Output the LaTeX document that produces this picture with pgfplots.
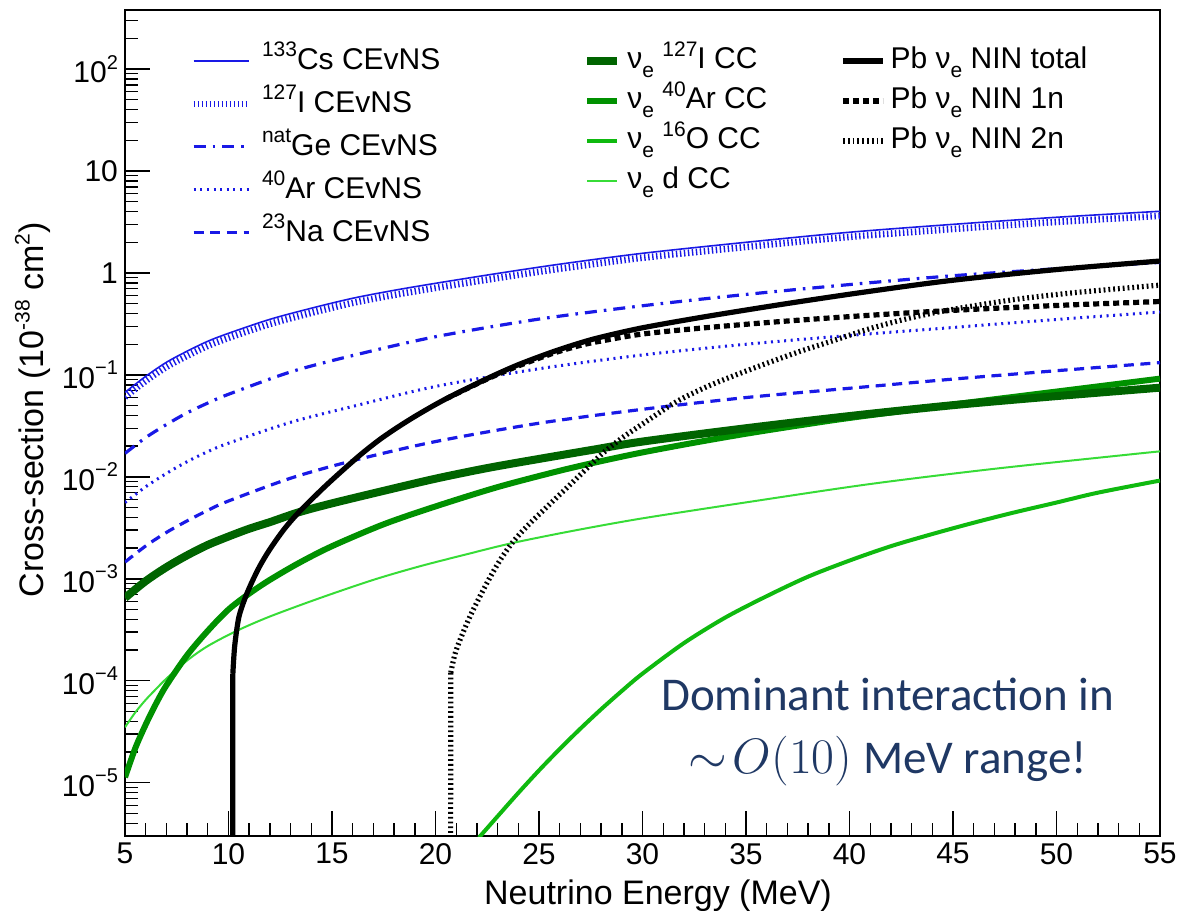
\documentclass[border=0pt]{standalone}
\usepackage{fontspec}
\setmainfont{Liberation Sans}
\newfontfamily\calibri{Carlito}
\usepackage{pgfplots}
\pgfplotsset{compat=1.18}
\definecolor{cblue}{RGB}{25,25,230}
\definecolor{gI}{RGB}{0,100,0}
\definecolor{gAr}{RGB}{0,145,0}
\definecolor{gO}{RGB}{15,185,15}
\definecolor{gd}{RGB}{55,220,55}
\definecolor{navy}{RGB}{31,56,100}
\newcommand{\sups}[1]{\raisebox{0.42em}{\fontsize{10.5}{12}\selectfont #1}}
\newcommand{\subs}[1]{\raisebox{-0.28em}{\fontsize{10.5}{12}\selectfont #1}}
\newcommand{\tsup}[1]{10\raisebox{0.45em}{\fontsize{10}{12}\selectfont #1}}
\tikzset{
 sCs/.style={cblue, line width=0.8pt},
 sI/.style={cblue, line width=3.3pt, dash pattern=on 0.7pt off 1.3pt},
 sGe/.style={cblue, line width=1.6pt, dash pattern=on 6pt off 3.5pt on 1.3pt off 3.5pt},
 sAr/.style={cblue, line width=1.5pt, dash pattern=on 1pt off 2.3pt},
 sNa/.style={cblue, line width=1.6pt, dash pattern=on 5pt off 3.3pt},
 sICC/.style={gI, line width=4pt},
 sArCC/.style={gAr, line width=3pt},
 sOCC/.style={gO, line width=2pt},
 sdCC/.style={gd, line width=1pt},
 sTot/.style={black, line width=2.6pt},
 s1n/.style={black, line width=2.6pt, dash pattern=on 3pt off 2pt},
 s2n/.style={black, line width=2.6pt, dash pattern=on 0.9pt off 1.5pt},
}
\begin{document}
\begin{tikzpicture}
\path[use as bounding box] (-62.5pt,-37pt) rectangle (526pt,418pt);
\begin{axis}[
 at={(0,0)}, anchor=south west,
 width=517.5pt, height=413pt, scale only axis,
 xmin=5, xmax=55, ymode=log, ymin=3e-6, ymax=380,
 xtick={5,10,...,55}, xticklabels={5,10,15,20,25,30,35,40,45,50,55},
 minor x tick num=4,
 ytick={1e-5,1e-4,1e-3,1e-2,1e-1,1,10,100},
 yticklabels={\tsup{−5},\tsup{−4},\tsup{−3},\tsup{−2},\tsup{−1},1,10,\tsup{2}},
 minor ytick={3e-6,4e-6,5e-6,6e-6,7e-6,8e-6,9e-6,2e-5,3e-5,4e-5,5e-5,6e-5,7e-5,8e-5,9e-5,2e-4,3e-4,4e-4,5e-4,6e-4,7e-4,8e-4,9e-4,2e-3,3e-3,4e-3,5e-3,6e-3,7e-3,8e-3,9e-3,0.02,0.03,0.04,0.05,0.06,0.07,0.08,0.09,0.2,0.3,0.4,0.5,0.6,0.7,0.8,0.9,2,3,4,5,6,7,8,9,20,30,40,50,60,70,80,90,200,300},
 tick pos=left, tick align=inside,
 major tick length=12.5pt, minor tick length=6.5pt,
 every tick/.style={black, line width=0.7pt},
 axis line style={line width=1pt},
 tick label style={font=\fontsize{15}{18}\selectfont},
 xlabel={Neutrino Energy (MeV)},
 ylabel={Cross-section (10\sups{-38} cm\sups{2})},
 label style={font=\fontsize{17}{20}\selectfont},
 xlabel style={at={(axis description cs:0.515,-0.0726)}, anchor=center},
 ylabel style={at={(axis description cs:-0.089,0.516)}, anchor=center},
 no markers,
 legend image code/.code={\draw[#1] (0pt,0pt) -- (27.5pt,0pt);},
 legend cell align=left,
 legend style={at={(axis description cs:0.0628,0.965)}, anchor=north west, draw=none, fill=none, inner sep=0pt, column sep=5pt, font=\fontsize{15}{18}\selectfont, nodes={text height=15pt, text depth=6.5pt, inner sep=0pt}},
]
\addplot[sCs, smooth] coordinates {(5,0.0675)(6,0.0969)(7,0.133)(8,0.171)(9,0.214)(10,0.256)(12,0.351)(14,0.451)(16,0.565)(18,0.676)(20,0.792)(23,0.99)(26,1.22)(30,1.56)(35,2.0)(40,2.51)(45,3.0)(50,3.52)(55,4.03)};
\addlegendentry{\sups{133}Cs CEvNS}
\addplot[sI, smooth] coordinates {(5,0.0608)(6,0.0873)(7,0.120)(8,0.154)(9,0.193)(10,0.231)(12,0.316)(14,0.406)(16,0.509)(18,0.609)(20,0.714)(23,0.892)(26,1.10)(30,1.41)(35,1.80)(40,2.26)(45,2.70)(50,3.17)(55,3.63)};
\addlegendentry{\sups{127}I CEvNS}
\addplot[sGe, smooth] coordinates {(5,0.017)(6,0.0243)(7,0.0326)(8,0.0425)(9,0.053)(10,0.0646)(13,0.107)(16,0.155)(20,0.237)(25,0.353)(30,0.477)(35,0.616)(40,0.77)(45,0.94)(50,1.1)(55,1.27)};
\addlegendentry{\sups{nat}Ge CEvNS}
\addplot[sAr, smooth] coordinates {(5,0.0056)(6,0.0080)(7,0.0108)(8,0.0141)(9,0.0177)(10,0.0214)(13,0.0343)(16,0.0491)(20,0.0771)(25,0.115)(30,0.157)(35,0.200)(40,0.244)(45,0.292)(50,0.35)(55,0.414)};
\addlegendentry{\sups{40}Ar CEvNS}
\addplot[sNa, smooth] coordinates {(5,0.00146)(6,0.0021)(7,0.00285)(8,0.0037)(9,0.0047)(10,0.0058)(13,0.0097)(16,0.0144)(20,0.0222)(25,0.0336)(30,0.046)(35,0.060)(40,0.074)(45,0.091)(50,0.11)(55,0.132)};
\addlegendentry{\sups{23}Na CEvNS}
\addplot[sdCC, smooth, forget plot] coordinates {(5,3.5e-5)(5.5,4.9e-5)(6,6.5e-5)(6.5,8.3e-5)(7,1.05e-4)(8,1.58e-4)(9,2.19e-4)(10.4,3.09e-4)(12,4.27e-4)(14.4,6.46e-4)(17,9.77e-4)(19.2,1.32e-3)(21.5,1.74e-3)(23.7,2.24e-3)(26.5,2.92e-3)(29.9,3.89e-3)(35,5.62e-3)(41,8.51e-3)(47,1.2e-2)(53.3,1.64e-2)(55,1.78e-2)};
\addplot[sOCC, smooth, forget plot] coordinates {(22.1,2.9e-6)(23,4.68e-6)(24,7.94e-6)(25,1.32e-5)(26,2.14e-5)(27,3.39e-5)(28,5.25e-5)(29,7.94e-5)(30,1.175e-4)(32,2.34e-4)(34,4.17e-4)(36,6.76e-4)(38,1.05e-3)(40,1.51e-3)(42,2.09e-3)(44,2.75e-3)(46,3.55e-3)(48,4.5e-3)(50,5.6e-3)(52,7.0e-3)(55,9.2e-3)};
\addplot[sArCC, smooth, forget plot] coordinates {(5,1.13e-5)(5.5,2.19e-5)(6,3.72e-5)(6.5,5.96e-5)(7,9.02e-5)(8,1.78e-4)(9,3.09e-4)(10,5.0e-4)(11,7.16e-4)(12,9.77e-4)(13.4,1.43e-3)(15,2.09e-3)(17.5,3.43e-3)(20,5.13e-3)(23,7.94e-3)(26,0.01148)(28,0.01426)(30,0.01738)(32.5,0.02163)(35,0.02649)(37.5,0.03184)(40,0.03784)(45,0.0513)(50,0.0687)(55,0.0920)};
\addplot[sICC, smooth, forget plot] coordinates {(5,6.5e-4)(6,9.5e-4)(7,1.3e-3)(8,1.7e-3)(9,2.15e-3)(10,2.6e-3)(11,3.1e-3)(12,3.6e-3)(13.4,4.5e-3)(15,5.5e-3)(17.5,7.3e-3)(20,9.6e-3)(22.5,0.0122)(25,0.0150)(27.5,0.0183)(30,0.0222)(35,0.0300)(40,0.0395)(45,0.0505)(50,0.0620)(55,0.0750)};
\addplot[s2n, forget plot] coordinates {(20.72,1e-7)(20.74,1.2e-4)};
\addplot[s2n, smooth, forget plot] coordinates {(20.74,1.2e-4)(21.0,2.0e-4)(21.65,4.2e-4)(22.46,8.9e-4)(23.1,1.5e-3)(23.74,2.3e-3)(24.5,3.4e-3)(25.68,5.8e-3)(27,0.0105)(28,0.0165)(29,0.024)(30,0.033)(31.6,0.054)(33,0.075)(34.4,0.098)(36,0.13)(37.6,0.17)(39,0.21)(41,0.285)(43,0.365)(45,0.44)(48,0.55)(51,0.645)(55,0.76)};
\addplot[s1n, smooth, forget plot] coordinates {(20.5,0.0582)(22.46,0.0905)(24,0.1225)(25.68,0.163)(27,0.195)(28,0.215)(30,0.252)(33,0.29)(37,0.338)(41,0.385)(45,0.43)(50,0.48)(55,0.525)};
\addplot[sTot, forget plot] coordinates {(10.20,1e-7)(10.21,1.17e-4)};
\addplot[sTot, smooth, forget plot] coordinates {(10.21,1.17e-4)(10.30,2.2e-4)(10.50,4.2e-4)(10.80,6.46e-4)(11.10,9.0e-4)(11.50,1.32e-3)(12.00,1.95e-3)(12.70,3.09e-3)(13.43,4.57e-3)(14.50,7.5e-3)(15.30,0.0106)(16.33,0.0162)(17.30,0.0232)(18.27,0.0316)(19.23,0.0417)(20.50,0.0582)(22.46,0.0914)(24,0.126)(25.68,0.169)(27,0.2065)(28,0.235)(30,0.290)(33,0.372)(37,0.502)(41,0.662)(45,0.849)(50,1.08)(55,1.31)};
\node[align=center, text=navy, font=\calibri\fontsize{23.5}{31.5}\selectfont] at (axis cs:41.85,3.15e-5) {Dominant interaction in\\$\sim\! O(10)$ MeV range!};
\end{axis}
\begin{axis}[
 at={(0,0)}, anchor=south west, width=517.5pt, height=413pt, scale only axis, hide axis,
 xmin=0, xmax=1, ymin=0, ymax=1,
 legend image code/.code={\draw[#1] (0pt,0pt) -- (15pt,0pt);},
 legend cell align=left,
 legend style={at={(axis description cs:0.4425,0.963)}, anchor=north west, draw=none, fill=none, inner sep=0pt, column sep=3pt, font=\fontsize{15}{18}\selectfont, nodes={text height=14pt, text depth=6pt, inner sep=0pt}},
]
\addlegendimage{sICC}\addlegendentry{ν\subs{e} \sups{127}I CC}
\addlegendimage{sArCC}\addlegendentry{ν\subs{e} \sups{40}Ar CC}
\addlegendimage{sOCC}\addlegendentry{ν\subs{e} \sups{16}O CC}
\addlegendimage{sdCC}\addlegendentry{ν\subs{e} d CC}
\end{axis}
\begin{axis}[
 at={(0,0)}, anchor=south west, width=517.5pt, height=413pt, scale only axis, hide axis,
 xmin=0, xmax=1, ymin=0, ymax=1,
 legend image code/.code={\draw[#1] (0pt,0pt) -- (20pt,0pt);},
 legend cell align=left,
 legend style={at={(axis description cs:0.6908,0.963)}, anchor=north west, draw=none, fill=none, inner sep=0pt, column sep=2.5pt, font=\fontsize{15}{18}\selectfont, nodes={text height=14pt, text depth=6pt, inner sep=0pt}},
]
\addlegendimage{sTot}\addlegendentry{Pb ν\subs{e} NIN total}
\addlegendimage{s1n}\addlegendentry{Pb ν\subs{e} NIN 1n}
\addlegendimage{s2n}\addlegendentry{Pb ν\subs{e} NIN 2n}
\end{axis}
\end{tikzpicture}
\end{document}
